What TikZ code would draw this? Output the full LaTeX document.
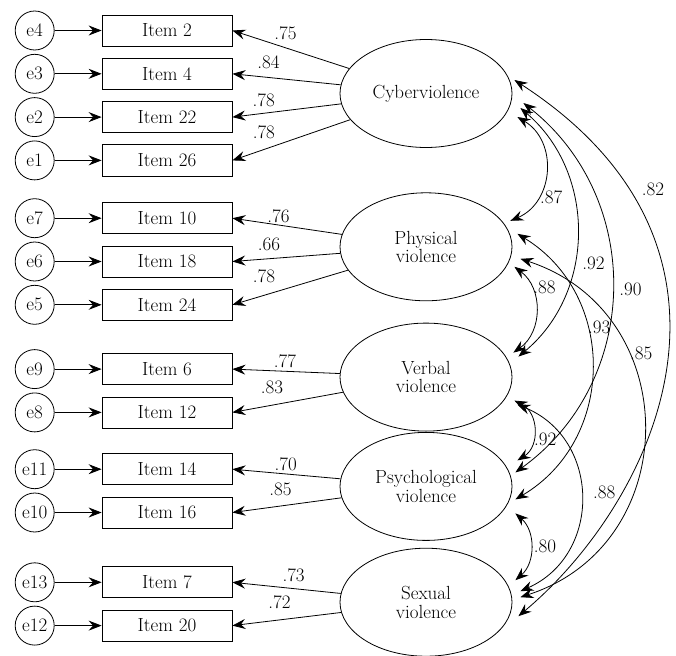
\documentclass[tikz,border=0pt]{standalone}
\usetikzlibrary{shapes,positioning,arrows.meta}

\begin{document}
\begin{tikzpicture}[x=1pt,y=1pt,line width=.8pt,
  font=\fontsize{19}{18.5}\selectfont,
  node distance=11.5pt,
  it/.style={draw,minimum width=130pt,minimum height=31pt,inner sep=0pt,},%
  er/.style={circle,draw,minimum size=39pt,inner sep=0pt,},%
  lv/.style={ellipse,draw,minimum width=172pt,minimum height=108pt,%
    align=center,inner sep=1pt,},%
  ar/.style={-{Stealth[length=13pt,width=10pt,inset=4.5pt]}},%
  cv/.style={{Stealth[length=13pt,width=10pt,inset=4.5pt]}-{Stealth[length=13pt,width=10pt,inset=4.5pt]}},%
  ld/.style={inner sep=1pt,},%
  ]
  \useasboundingbox (0,0) rectangle (676,-655);

  \node (i2) [it] at (167,-30.5) {Item 2};
  \node (i4) [it,below=of i2] {Item 4};
  \node (i22) [it,below=of i4] {Item 22};
  \node (i26) [it,below=of i22] {Item 26};
  \node (i10) [it,below=26pt of i26] {Item 10};
  \node (i18) [it,below=of i10] {Item 18};
  \node (i24) [it,below=of i18] {Item 24};
  \node (i6) [it,below=32.5pt of i24] {Item 6};
  \node (i12) [it,below=of i6] {Item 12};
  \node (i14) [it,below=25pt of i12] {Item 14};
  \node (i16) [it,below=of i14] {Item 16};
  \node (i7) [it,below=38pt of i16] {Item 7};
  \node (i20) [it,below=of i7] {Item 20};

  \node (e4) [er,left=47pt of i2] {e4};
  \node (e3) [er,left=47pt of i4] {e3};
  \node (e2) [er,left=47pt of i22] {e2};
  \node (e1) [er,left=47pt of i26] {e1};
  \node (e7) [er,left=47pt of i10] {e7};
  \node (e6) [er,left=47pt of i18] {e6};
  \node (e5) [er,left=47pt of i24] {e5};
  \node (e9) [er,left=47pt of i6] {e9};
  \node (e8) [er,left=47pt of i12] {e8};
  \node (e11) [er,left=47pt of i14] {e11};
  \node (e10) [er,left=47pt of i16] {e10};
  \node (e13) [er,left=47pt of i7] {e13};
  \node (e12) [er,left=47pt of i20] {e12};

  \node (cyb) [lv] at (426,-93.5) {Cyberviolence};
  \node (phy) [lv,below=44.5pt of cyb] {Physical\\violence};
  \node (ver) [lv,below=21.5pt of phy] {Verbal\\violence};
  \node (psy) [lv,below=0.5pt of ver] {Psychological\\violence};
  \node (sex) [lv,below=7pt of psy] {Sexual\\violence};

  \draw [ar] (e4) -- (i2);
  \draw [ar] (e3) -- (i4);
  \draw [ar] (e2) -- (i22);
  \draw [ar] (e1) -- (i26);
  \draw [ar] (e7) -- (i10);
  \draw [ar] (e6) -- (i18);
  \draw [ar] (e5) -- (i24);
  \draw [ar] (e9) -- (i6);
  \draw [ar] (e8) -- (i12);
  \draw [ar] (e11) -- (i14);
  \draw [ar] (e10) -- (i16);
  \draw [ar] (e13) -- (i7);
  \draw [ar] (e12) -- (i20);

  \draw [ar] (cyb) -- (i2.east) node[ld,pos=.545,above=7pt] {.75};
  \draw [ar] (cyb) -- (i4.east) node[ld,pos=.666,above=7pt] {.84};
  \draw [ar] (cyb) -- (i22.east) node[ld,pos=.712,above=5pt] {.78};
  \draw [ar] (cyb) -- (i26.east) node[ld,pos=.733,above=9pt] {.78};
  \draw [ar] (phy) -- (i10.east) node[ld,pos=.58,above=1pt] {.76};
  \draw [ar] (phy) -- (i18.east) node[ld,pos=.66,above=7pt] {.66};
  \draw [ar] (phy) -- (i24.east) node[ld,pos=.727,above=11pt] {.78};
  \draw [ar] (ver) -- (i6.east) node[ld,pos=.511,above=2pt] {.77};
  \draw [ar] (ver) -- (i12.east) node[ld,pos=.643,above=10pt] {.83};
  \draw [ar] (psy) -- (i14.east) node[ld,pos=.507,above=2pt] {.70};
  \draw [ar] (psy) -- (i16.east) node[ld,pos=.56,above=9pt] {.85};
  \draw [ar] (sex) -- (i7.east) node[ld,pos=.435,above=5pt] {.73};
  \draw [ar] (sex) -- (i20.east) node[ld,pos=.568,above=10pt] {.72};

  \draw [cv] ([shift={(5,-23.5)}]cyb.east) to[bend left=63,looseness=1.17]
    node[ld,pos=.72,right=1pt] {.87} ([shift={(-2,26)}]phy.east);
  \draw [cv] ([shift={(2,-20)}]phy.east) to[bend left=54,looseness=1.07]
    node[ld,pos=.26,right=1pt] {.88} ([shift={(1,24.5)}]ver.east);
  \draw [cv] ([shift={(2,-23.5)}]ver.east) to[bend left=61,looseness=1.15]
    node[ld,pos=.64,right=0pt] {.92} ([shift={(5,26)}]psy.east);
  \draw [cv] ([shift={(3,-27)}]psy.east) to[bend left=49,looseness=1.03]
    node[ld,pos=.5,right=2pt] {.80} ([shift={(3,22)}]sex.east);
  \draw [cv] ([shift={(8,-14.5)}]cyb.east) to[bend left=50,looseness=1.03]
    node[ld,pos=.61,right=7pt] {.92} ([shift={(6,20.5)}]ver.east);
  \draw [cv] ([shift={(11,-9.5)}]cyb.east) to[bend left=53,looseness=1.07]
    node[ld,pos=.5,right=6pt] {.90} ([shift={(3,14)}]psy.east);
  \draw [cv] ([shift={(2,13.5)}]cyb.east) .. controls +(259,-168) and +(138,116)
    .. ([shift={(6,-14)}]sex.east) node[ld,pos=.2,right=13pt] {.82};
  \draw [cv] ([shift={(5,13)}]phy.east) to[bend left=59,looseness=1.125]
    node[ld,pos=.37,right=0pt] {.93} ([shift={(3,-13)}]psy.east);
  \draw [cv] ([shift={(8,-12)}]phy.east) to[bend left=72,looseness=1.31]
    node[ld,pos=.32,right=1pt] {.85} ([shift={(8,5)}]sex.east);
  \draw [cv] ([shift={(5,-27.5)}]ver.east) to[bend left=67,looseness=1.23]
    node[ld,pos=.48,right=11pt] {.88} ([shift={(8,11)}]sex.east);
\end{tikzpicture}
\end{document}
